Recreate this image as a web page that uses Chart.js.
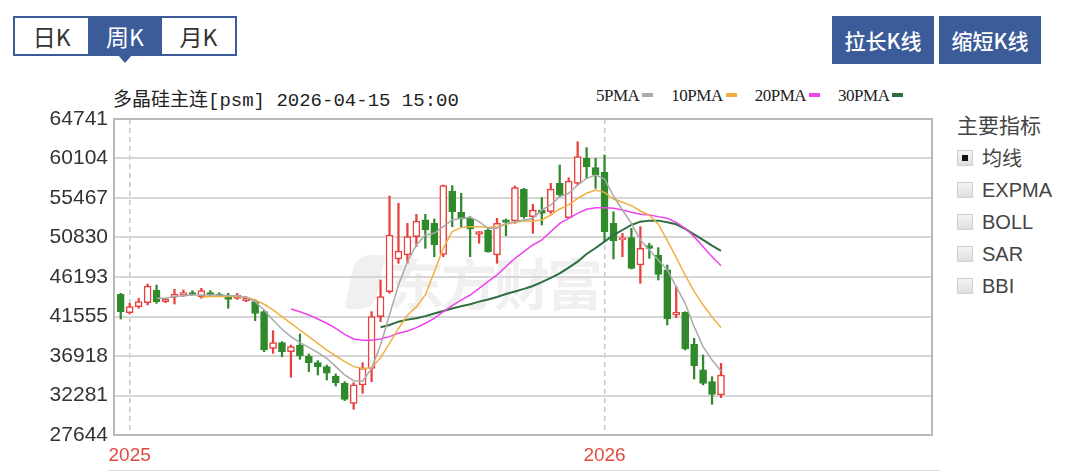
<!DOCTYPE html>
<html>
<head>
<meta charset="utf-8">
<script src="https://cdn.jsdelivr.net/npm/chart.js@4.4.1/dist/chart.umd.min.js"></script>
<style>
  body { margin: 0; background: #fff; font-family: "Liberation Sans", "Noto Sans CJK SC", sans-serif; }
  #wrap { position: relative; width: 1080px; height: 472px; overflow: hidden; background: #fff; }
  .tabs { position: absolute; left: 13px; top: 16px; width: 220px; height: 36px; border: 2px solid #3b5b99; display: flex; }
  .tabs div { flex: 1; text-align: center; line-height: 36px; font-size: 23px; color: #333; font-family: "Noto Sans CJK SC", sans-serif; }
  .tabs .on { background: #3b5b99; color: #fff; }
  .tri { position: absolute; left: 118px; top: 55px; width: 0; height: 0; border-left: 7px solid transparent; border-right: 7px solid transparent; border-top: 8px solid #3b5b99; }
  .btn { position: absolute; top: 16px; height: 48px; width: 102px; background: #3b5b99; color: #fff; font-size: 21px; line-height: 48px; text-align: center; font-family: "Noto Sans CJK SC", sans-serif; font-weight: 500; }
  .title { position: absolute; left: 113px; top: 84px; font-size: 19px; color: #222; font-family: "Liberation Mono", "Noto Sans CJK SC", monospace; white-space: nowrap; }
  .legend { position: absolute; left: 596px; top: 86px; font-size: 17px; color: #222; font-family: "Liberation Serif", serif; white-space: nowrap; letter-spacing: -0.5px; }
  .legend span.k { display: inline-block; width: 11px; height: 4px; margin: 0 18px 4px 3px; vertical-align: middle; }
  .side { position: absolute; left: 957px; top: 109px; color: #444; }
  .side .hd { font-size: 21px; font-family: "Noto Sans CJK SC", sans-serif; margin-bottom: 3px; color: #444; }
  .side .row { height: 32px; line-height: 32px; font-size: 20px; display: flex; align-items: center; }
  .side .cb { width: 14px; height: 14px; border: 1px solid #d0d0d0; background: linear-gradient(#f4f4f4, #dedede); margin-right: 9px; position: relative; }
  .side .cb.on::after { content: ""; position: absolute; left: 4px; top: 4px; width: 6px; height: 6px; background: #111; }
  .wm { position: absolute; left: 350px; top: 240px; font-size: 56px; font-weight: 700; color: rgba(0,0,0,0.06); font-family: "Noto Sans CJK SC", sans-serif; letter-spacing: -3px; white-space: nowrap; }
  .wm i { display: inline-block; width: 30px; height: 54px; margin-right: 8px; vertical-align: -4px; background: rgba(0,0,0,1); border-radius: 14px 4px 14px 4px; transform: skewX(-12deg); }
  .foot { position: absolute; left: 108px; top: 470px; width: 832px; height: 1px; background: #ddd; }
  canvas { position: absolute; left: 0; top: 0; }
</style>
</head>
<body>
<div id="wrap">
  <div class="tabs"><div>日K</div><div class="on">周K</div><div>月K</div></div>
  <div class="tri"></div>
  <div class="btn" style="left:832px">拉长K线</div>
  <div class="btn" style="left:939px">缩短K线</div>
  <div class="title">多晶硅主连[psm] 2026-04-15 15:00</div>
  <div class="legend">5PMA<span class="k" style="background:#aaaaaa"></span>10PMA<span class="k" style="background:#f0b040"></span>20PMA<span class="k" style="background:#ee44ee"></span>30PMA<span class="k" style="background:#2e6e3e"></span></div>
  <div class="side">
    <div class="hd">主要指标</div>
    <div class="row"><div class="cb on"></div><span style="font-family:'Noto Sans CJK SC'">均线</span></div>
    <div class="row"><div class="cb"></div>EXPMA</div>
    <div class="row"><div class="cb"></div>BOLL</div>
    <div class="row"><div class="cb"></div>SAR</div>
    <div class="row"><div class="cb"></div>BBI</div>
  </div>
  <div class="wm"><i style="background:rgba(0,0,0,0.06)"></i>东方财富</div>
  <div class="foot"></div>
  <canvas id="kline" width="1080" height="472"></canvas>
</div>
<script>
// weekly candles, index 0 = last week of 2024
const opens = [44160, 42010, 42710, 43180, 44670, 43300, 43810, 44080, 44350, 43890,
  44350, 44200, 44080, 43690, 43420, 43300, 42120, 37820, 38490, 37430,
  38210, 36920, 36140, 35670, 34570, 33710, 31360, 33520, 35470, 41540,
  44470, 48310, 48780, 50930, 52890, 52490, 48850, 56290, 53790, 53080,
  51200, 51710, 48780, 52890, 52770, 56520, 53280, 54060, 53860, 57190,
  53160, 57190, 60120, 59030, 58480, 52490, 50540, 50810, 47600, 49870,
  48780, 47020, 41730, 42050, 38290, 35280, 33910, 32340];
const closes = [42120, 42710, 43300, 45140, 43300, 43570, 44200, 44350, 44160, 44590,
  44120, 44040, 43570, 44080, 43690, 41930, 37620, 38490, 37430, 38020,
  36920, 36140, 35670, 34890, 33790, 31830, 33520, 35470, 41540, 43890,
  51120, 49250, 50930, 52770, 51710, 49950, 56920, 53860, 53000, 51830,
  51520, 49170, 52490, 52610, 56680, 53280, 54060, 53670, 56520, 55820,
  57460, 60320, 59150, 58170, 51520, 50420, 50810, 47210, 49560, 49560,
  46510, 41260, 42050, 37740, 35790, 33710, 32420, 34690];
const highs = [44280, 43100, 43690, 45370, 45250, 43690, 44750, 44670, 44590, 44860,
  44590, 44350, 44280, 44280, 43890, 43570, 42320, 39890, 38600, 38210,
  39500, 37150, 36370, 35860, 34810, 33910, 33790, 36140, 42120, 45840,
  55700, 54840, 52490, 53550, 53550, 53000, 56990, 56920, 56020, 53280,
  51520, 51910, 53080, 53000, 56880, 56600, 54720, 55510, 57190, 59340,
  57850, 62080, 61380, 60120, 60520, 53860, 51320, 51910, 52100, 50150,
  49640, 47600, 45060, 42120, 38990, 37040, 34490, 36060];
const lows = [41260, 41850, 42520, 42910, 43100, 43180, 43020, 43890, 44080, 43690,
  44040, 43890, 42520, 43570, 43300, 41070, 37430, 37230, 36840, 34420,
  36530, 35080, 34690, 34100, 33400, 31680, 30660, 32540, 33910, 40950,
  44280, 47800, 47800, 49760, 49560, 48580, 48580, 52100, 52100, 48580,
  50150, 49090, 47800, 51050, 52490, 53080, 51320, 52300, 53670, 55620,
  53080, 56990, 57780, 56600, 50340, 48310, 48580, 47130, 45450, 48390,
  45840, 40560, 41420, 37620, 34220, 33520, 31250, 32030];

// moving averages as drawn (null = not yet shown)
const ma5 = [null, null, null, null, 43690, 43690, 43890, 44000, 44080, 44080,
  44080, 44080, 44000, 44000, 43810, 43300, 42320, 41150, 40050, 39190,
  38490, 37940, 37310, 36650, 35670, 34690, 34020, 33950, 35470, 38210,
  41730, 45250, 47990, 49950, 51120, 51320, 52100, 52890, 53080, 53200,
  52690, 51910, 51910, 52490, 52690, 52890, 53080, 54060, 54650, 55620,
  56020, 56990, 57780, 58170, 57700, 55700, 54060, 52490, 50540, 49360,
  48190, 47020, 45060, 43100, 40360, 38020, 36450, 35150];
const ma10 = [null, null, null, null, null, null, null, null, null, 43810,
  43890, 43890, 43890, 43890, 43810, 43490, 42990, 42320, 41540, 40750,
  39970, 39190, 38410, 37620, 36920, 36250, 35670, 35450, 35550, 36700,
  38400, 40150, 41700, 42700, 44080, 46820, 49560, 51520, 51990, 52100,
  52100, 51990, 52100, 52380, 52610, 52770, 52770, 52890, 53470, 54180,
  54650, 55430, 56020, 56410, 56130, 55350, 54960, 54570, 53940, 53470,
  52400, 50500, 48500, 46400, 44500, 42900, 41500, 40250];
const ma20 = [null, null, null, null, null, null, null, null, null, null,
  null, null, null, null, null, null, null, null, null, 42440,
  42120, 41730, 41260, 40760, 40170, 39460, 38920, 38760, 38760, 38920,
  39190, 39580, 39850, 40250, 40760, 41340, 42120, 42830, 43490, 44080,
  44860, 45650, 46430, 47410, 48390, 49170, 49950, 50540, 51520, 52490,
  53080, 53670, 54140, 54330, 54330, 54250, 54060, 53790, 53550, 53470,
  53280, 53080, 52610, 51910, 50930, 49750, 48580, 47520];
const ma30 = [null, null, null, null, null, null, null, null, null, null,
  null, null, null, null, null, null, null, null, null, null,
  null, null, null, null, null, null, null, null, null, 40290,
  40560, 40950, 41190, 41340, 41600, 41900, 42200, 42500, 42750, 43000,
  43300, 43550, 43850, 44200, 44500, 44800, 45140, 45600, 46100, 46620,
  47300, 48000, 48890, 49600, 50340, 51120, 51710, 52300, 52690, 52810,
  52810, 52610, 52380, 51830, 51200, 50540, 49870, 49250];

const yTicks = [27644, 32281, 36918, 41555, 46193, 50830, 55467, 60104, 64741];
const yearLabels = ['2025', '2026'];
const yearIndex = [1, 54];

const RED = '#e8403c';
const GREEN = '#2f8a2c';

const up = closes.map((c, i) => c >= opens[i]);
const bodies = opens.map((o, i) => ({ x: i, y: [o, closes[i]] }));
const wicks = lows.map((l, i) => ({ x: i, y: [l, highs[i]] }));
const line = arr => arr.map((v, i) => ({ x: i, y: v }));

const framePlugin = {
  id: 'frame',
  beforeDatasetsDraw(chart) {
    const { ctx, chartArea: a } = chart;
    ctx.save();
    ctx.strokeStyle = '#b8b8b8';
    ctx.lineWidth = 2;
    ctx.strokeRect(a.left, a.top, a.right - a.left, a.bottom - a.top);
    ctx.restore();
  }
};

new Chart(document.getElementById('kline'), {
  data: {
    datasets: [
      { type: 'line', label: '5PMA', data: line(ma5), borderColor: '#aaaaaa', borderWidth: 1.5, pointRadius: 0, order: 0 },
      { type: 'line', label: '10PMA', data: line(ma10), borderColor: '#f0b040', borderWidth: 1.5, pointRadius: 0, order: 0 },
      { type: 'line', label: '20PMA', data: line(ma20), borderColor: '#ee44ee', borderWidth: 1.5, pointRadius: 0, order: 0 },
      { type: 'line', label: '30PMA', data: line(ma30), borderColor: '#2e6e3e', borderWidth: 2, pointRadius: 0, order: 0 },
      {
        type: 'bar', label: 'body', data: bodies, grouped: false, barThickness: 7, order: 1,
        backgroundColor: up.map(u => u ? '#ffffff' : GREEN),
        borderColor: up.map(u => u ? RED : GREEN),
        borderWidth: 1.5, borderSkipped: false
      },
      {
        type: 'bar', label: 'wick', data: wicks, grouped: false, barThickness: 1.6, order: 2,
        backgroundColor: up.map(u => u ? RED : GREEN), borderWidth: 0
      }
    ]
  },
  options: {
    responsive: false,
    animation: false,
    devicePixelRatio: 1,
    layout: { padding: { top: 119, right: 148, left: 0, bottom: 0 } },
    plugins: { legend: { display: false }, tooltip: { enabled: false } },
    scales: {
      x: {
        type: 'linear', min: -0.75, max: 90.55, offset: false,
        afterFit: s => { s.height = 37; },
        afterBuildTicks: s => { s.ticks = yearIndex.map(v => ({ value: v })); },
        ticks: {
          autoSkip: false, maxRotation: 0, padding: 9, color: '#e04a40',
          font: { size: 19, family: 'Liberation Sans' },
          callback: v => yearLabels[yearIndex.indexOf(v)]
        },
        grid: { color: '#c8c8c8', lineWidth: 1.5, drawTicks: false, offset: false },
        border: { display: false, dash: [5, 4] }
      },
      y: {
        min: yTicks[0], max: yTicks[yTicks.length - 1],
        afterFit: s => { s.width = 114; },
        afterBuildTicks: s => { s.ticks = yTicks.map(v => ({ value: v })); },
        ticks: {
          padding: 6, color: '#333',
          font: { size: 21, family: 'Liberation Sans' },
          callback: v => String(v)
        },
        grid: { color: '#d6d6d6', lineWidth: 2, drawTicks: false },
        border: { display: false }
      }
    }
  },
  plugins: [framePlugin]
});
</script>
</body>
</html>
